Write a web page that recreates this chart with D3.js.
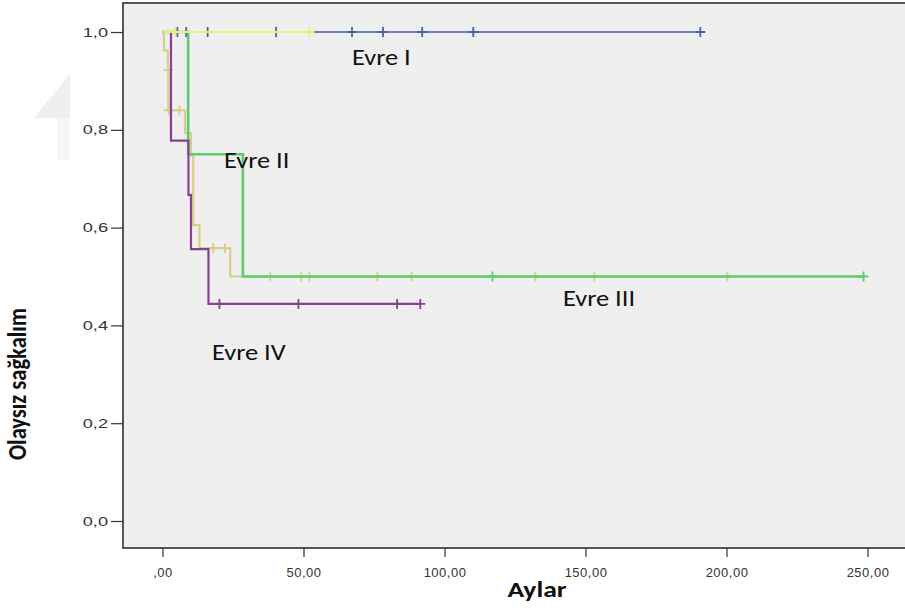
<!DOCTYPE html>
<html>
<head>
<meta charset="utf-8">
<script src="https://cdn.jsdelivr.net/npm/d3@7/dist/d3.min.js"></script>
<style>
  html, body { margin: 0; padding: 0; background: #ffffff; }
  svg { display: block; }
</style>
</head>
<body>
<svg id="chart" width="905" height="608"></svg>
<script>
// ---- axis ticks ----
const xTickValues = [0, 50, 100, 150, 200, 250];
const xTickLabels = [",00", "50,00", "100,00", "150,00", "200,00", "250,00"];
const yTickValues = [0, 0.2, 0.4, 0.6, 0.8, 1.0];
const yTickLabels = ["0,0", "0,2", "0,4", "0,6", "0,8", "1,0"];

// ---- step curves: event times (months), survival after each step, censored times, last follow-up ----
const evre1Times = [0];
const evre1Surv = [1];
const evre1Censor = [5.3, 8.4, 16.0, 40.3, 67.2, 78.2, 92.1, 110.2, 190.7];
const evre1End = 190.7;

const evre2Times = [0, 9.1, 28.5];
const evre2Surv = [1, 0.75, 0.5];
const evre2Censor = [117.0, 248.6];
const evre2End = 248.6;

const evre3Times = [0, 0.5, 1.9, 2.1, 8.0, 10.1, 10.9, 13.1, 24.0];
const evre3Surv = [1, 0.962, 0.922, 0.840, 0.793, 0.747, 0.605, 0.558, 0.500];
const evre3Censor = [2.0, 2.2, 6.0, 18.0, 22.2, 38.2, 49.2, 52.1, 76.2, 88.3, 132.2, 153.1, 200.3];
const evre3End = 200.3;

const evre4Times = [0, 3.0, 9.2, 10.1, 16.3];
const evre4Surv = [1, 0.778, 0.667, 0.556, 0.444];
const evre4Censor = [20.2, 48.2, 83.2, 91.4];
const evre4End = 91.4;

const evre0Times = [0];
const evre0Surv = [1];
const evre0Censor = [4.5, 52.0];
const evre0End = 52.0;

// drawing order (later entries on top)
const groups = [
  { times: evre3Times, surv: evre3Surv, censor: evre3Censor, end: evre3End, color: "#d8ce8c", width: 2.2 },
  { times: evre1Times, surv: evre1Surv, censor: evre1Censor, end: evre1End, color: "#4660b2", width: 1.6 },
  { times: evre2Times, surv: evre2Surv, censor: evre2Censor, end: evre2End, color: "#60cb70", width: 2.6 },
  { times: evre4Times, surv: evre4Surv, censor: evre4Censor, end: evre4End, color: "#8a3f93", width: 2.2 },
  { times: evre0Times, surv: evre0Surv, censor: evre0Censor, end: evre0End, color: "#f3ef6c", width: 2.2 }
];

const stageLabels = [
  { text: "Evre I",   px: 352, py: 65 },
  { text: "Evre II",  px: 224, py: 168 },
  { text: "Evre III", px: 563, py: 306 },
  { text: "Evre IV",  px: 212, py: 360 }
];

// horizontal stretch applied to the wide-set lettering
const wide = 1.2;
const wideTicks = 1.4;

// ---- layout ----
const svg = d3.select("#chart");
const frame = { left: 123, top: 3, bottom: 548, right: 914 };

const x = d3.scaleLinear().domain([0, 250]).range([162.5, 867.5]);
const y = d3.scaleLinear().domain([0, 1]).range([521, 32]);

// faint emblem behind the axis area
svg.append("polygon")
  .attr("points", "70,74 34,118 70,118")
  .attr("fill", "#efefef");
svg.append("rect")
  .attr("x", 57).attr("y", 118).attr("width", 13).attr("height", 42)
  .attr("fill", "#f6f6f6");

// plot panel
svg.append("rect")
  .attr("x", frame.left).attr("y", frame.top)
  .attr("width", frame.right - frame.left).attr("height", frame.bottom - frame.top)
  .attr("fill", "#efefef")
  .attr("stroke", "#444444")
  .attr("stroke-width", 1.8);

// y axis
const yAxis = d3.axisLeft(y)
  .tickValues(yTickValues)
  .tickFormat((d, i) => yTickLabels[i])
  .tickSize(12)
  .tickPadding(3);
const gy = svg.append("g").attr("transform", `translate(${frame.left},0)`).call(yAxis);
gy.select(".domain").remove();
gy.selectAll("line").attr("stroke", "#333").attr("stroke-width", 1.2);
gy.selectAll("text")
  .attr("fill", "#333")
  .attr("x", 0)
  .attr("transform", `translate(-15,0) scale(${wideTicks},1)`)
  .style("font-family", "'Liberation Sans', Arial, sans-serif")
  .style("font-size", "13px");

// x axis
const xAxis = d3.axisBottom(x)
  .tickValues(xTickValues)
  .tickFormat((d, i) => xTickLabels[i])
  .tickSize(9)
  .tickPadding(11);
const gx = svg.append("g").attr("transform", `translate(0,${frame.bottom})`).call(xAxis);
gx.select(".domain").remove();
gx.selectAll("line").attr("stroke", "#333").attr("stroke-width", 1.2);
gx.selectAll("text")
  .attr("fill", "#333")
  .style("font-family", "'Liberation Sans', Arial, sans-serif")
  .style("font-size", "13px")
  .style("letter-spacing", "0.5px");

// axis titles
svg.append("text")
  .attr("transform", `translate(537,597) scale(${wide},1)`)
  .attr("text-anchor", "middle")
  .style("font-family", "Carlito, Lato, sans-serif")
  .style("font-weight", "bold")
  .style("font-size", "23px")
  .attr("fill", "#111")
  .text("Aylar");

svg.append("text")
  .attr("transform", `translate(26,384) scale(${wide},1) rotate(-90)`)
  .attr("text-anchor", "middle")
  .style("font-family", "Carlito, Lato, sans-serif")
  .style("font-weight", "bold")
  .style("font-size", "22.5px")
  .attr("fill", "#111")
  .text("Olaysız sağkalım");

// step curves
const line = d3.line()
  .x(d => x(d[0]))
  .y(d => y(d[1]))
  .curve(d3.curveStepAfter);

function levelAt(g, t) {
  const i = d3.bisectRight(g.times, t) - 1;
  return g.surv[Math.max(0, i)];
}

const curves = svg.append("g");
groups.forEach(g => {
  const pts = g.times.map((t, i) => [t, g.surv[i]]);
  pts.push([g.end, g.surv[g.surv.length - 1]]);
  const grp = curves.append("g");
  grp.append("path")
    .attr("d", line(pts))
    .attr("fill", "none")
    .attr("stroke", g.color)
    .attr("stroke-width", g.width);
  grp.selectAll("path.censor")
    .data(g.censor)
    .join("path")
    .attr("class", "censor")
    .attr("d", t => {
      const cx = x(t), cy = y(levelAt(g, t));
      return `M${cx - 5},${cy}H${cx + 5}M${cx},${cy - 5}V${cy + 5}`;
    })
    .attr("fill", "none")
    .attr("stroke", g.color)
    .attr("stroke-width", 1.8);
});

// stage labels
svg.append("g").selectAll("text")
  .data(stageLabels)
  .join("text")
  .attr("transform", d => `translate(${d.px},${d.py}) scale(${wide},1)`)
  .style("font-family", "Carlito, Lato, sans-serif")
  .style("font-size", "22px")
  .attr("fill", "#111")
  .text(d => d.text);
</script>
</body>
</html>
